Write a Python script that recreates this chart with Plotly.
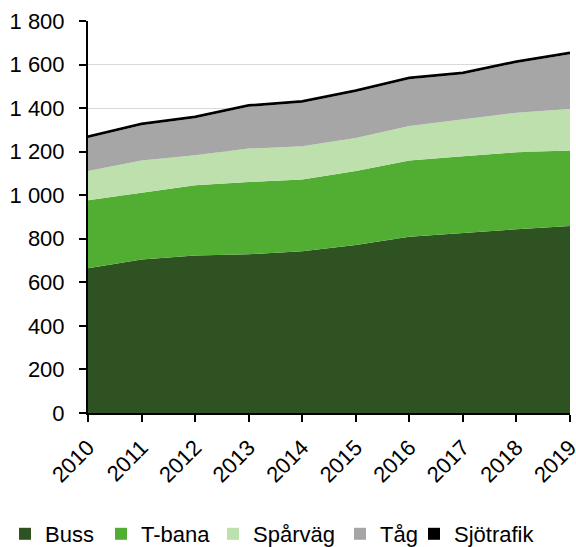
import plotly.graph_objects as go

years = [2010, 2011, 2012, 2013, 2014, 2015, 2016, 2017, 2018, 2019]
buss = [665, 705, 723, 729, 743, 771, 809, 827, 844, 859]
tbana = [312, 305, 323, 332, 329, 340, 351, 352, 353, 346]
sparvag = [134, 150, 137, 153, 153, 152, 158, 168, 182, 191]
tag = [152, 161, 171, 192, 200, 211, 215, 209, 228, 251]
sjotrafik = [8, 8, 8, 8, 8, 8, 8, 8, 8, 8]
yticks = [0, 200, 400, 600, 800, 1000, 1200, 1400, 1600, 1800]

series = [
    ("Buss", buss, "#2f5222"),
    ("T-bana", tbana, "#52ae32"),
    ("Spårväg", sparvag, "#bde0ad"),
    ("Tåg", tag, "#a6a6a6"),
    ("Sjötrafik", sjotrafik, "#000000"),
]

W, H = 576, 547
legend_px = [5, 101, 213, 340, 414]
legend_keys = ["legend", "legend2", "legend3", "legend4", "legend5"]

fig = go.Figure()
for name, vals, col in series:
    is_sjo = name == "Sjötrafik"
    fig.add_trace(go.Scatter(
        x=years, y=vals, name=name, stackgroup="one", mode="lines",
        line=dict(width=2 if is_sjo else 0, color=col),
        fillcolor=col, showlegend=False, hoverinfo="skip",
    ))
for (name, vals, col), lk in zip(series, legend_keys):
    fig.add_trace(go.Bar(
        x=[years[0]], y=[None], name=name,
        marker=dict(color=col, line=dict(width=0)),
        showlegend=True, legend=lk,
    ))

legend_common = dict(orientation="h", xref="container", yref="container",
                     xanchor="left", y=1 - 534 / H, yanchor="middle",
                     font=dict(size=22), itemwidth=30, bgcolor="rgba(0,0,0,0)",
                     borderwidth=0)
layout_legends = {}
for lk, px in zip(legend_keys, legend_px):
    layout_legends[lk] = dict(legend_common, x=px / W)

fig.update_layout(
    width=W, height=H,
    margin=dict(l=88, r=6, t=21, b=134),
    plot_bgcolor="white", paper_bgcolor="white",
    font=dict(family="Liberation Sans, Arial, sans-serif", size=22, color="#000000"),
    showlegend=True,
    xaxis=dict(range=[2010, 2019], tickmode="array", tickvals=years,
               ticktext=[str(y) for y in years], tickangle=-45,
               showline=True, linecolor="black", linewidth=2,
               ticks="outside", ticklen=7, tickwidth=2, tickcolor="black",
               showgrid=False, zeroline=False, automargin=False,
               ticklabeloverflow="allow", ticklabelstandoff=4),
    yaxis=dict(range=[0, 1800], tickmode="array",
               tickvals=yticks,
               ticktext=[f"{v:,}".replace(",", " ") for v in yticks],
               showline=True, linecolor="black", linewidth=2,
               ticks="outside", ticklen=7, tickwidth=2, tickcolor="black",
               showgrid=True, gridcolor="#d9d9d9", gridwidth=1, zeroline=False,
               automargin=False, ticklabelstandoff=10),
    **layout_legends,
)

fig.write_html("out.html", config={"displayModeBar": False},
               post_script="document.body.style.margin='0';document.body.style.overflow='hidden';")
